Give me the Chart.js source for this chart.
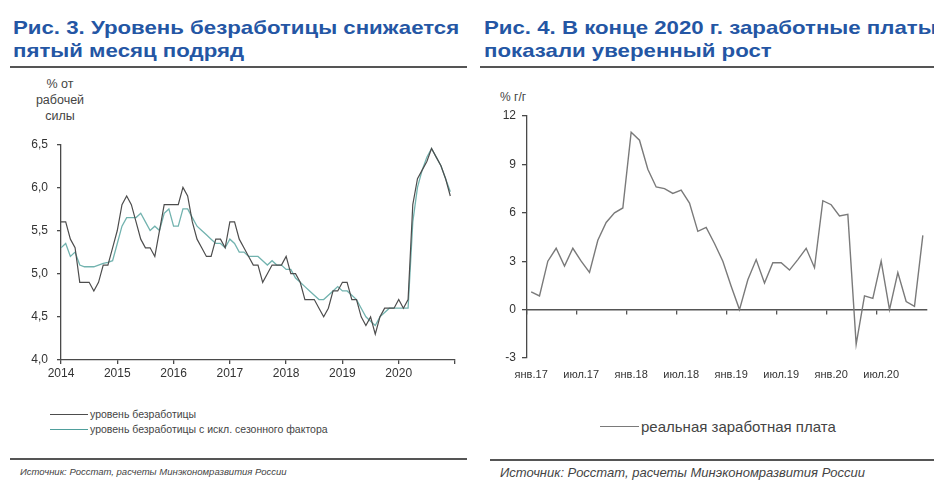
<!DOCTYPE html>
<html lang="ru">
<head>
<meta charset="utf-8">
<title>Безработица и заработные платы</title>
<script src="https://cdn.jsdelivr.net/npm/chart.js@4.4.1/dist/chart.umd.min.js"></script>
<style>
  html, body { margin: 0; padding: 0; background: #fff; }
  body {
    width: 934px; height: 481px; overflow: hidden; position: relative;
    font-family: "Liberation Sans", Arial, sans-serif; color: #333;
  }
  .abs { position: absolute; white-space: nowrap; }
  .title {
    font-weight: bold; font-size: 19px; line-height: 23px; color: #2456a4;
    transform: scaleX(1.17); transform-origin: left top;
  }
  .rule { position: absolute; height: 2px; background: #555; }
  .ytitle { font-size: 12.5px; line-height: 16px; text-align: center; color: #444; }
  .legend { font-size: 10.5px; color: #444; display: flex; align-items: center; }
  .legend .swatch { display: inline-block; width: 38px; height: 0; border-top: 1.5px solid #555; margin-right: 2px; }
  .source { font-size: 9.5px; font-style: italic; color: #444; }
  canvas { position: absolute; }
</style>
</head>
<body>

<!-- Left panel: unemployment rate -->
<div class="abs title" style="left:13px; top:16px;">Рис. 3. Уровень безработицы снижается<br>пятый месяц подряд</div>
<div class="rule" style="left:10px; width:457px; top:66px;"></div>
<div class="abs ytitle" style="left:29px; width:62px; top:76px;">% от<br>рабочей<br>силы</div>
<canvas id="unempChart" width="467" height="262" style="left:0; top:128px;"></canvas>
<div class="abs legend" style="left:50px; top:408px;"><span class="swatch" style="border-top-color:#4d4d4d"></span>уровень безработицы</div>
<div class="abs legend" style="left:50px; top:423px;"><span class="swatch" style="border-top-color:#4f9f9c"></span>уровень безработицы с искл. сезонного фактора</div>
<div class="rule" style="left:10px; width:457px; top:458px;"></div>
<div class="abs source" style="left:20px; top:466px;">Источник: Росстат, расчеты Минэкономразвития России</div>

<!-- Right panel: real wages -->
<div class="abs title" style="left:484px; top:16px;">Рис. 4. В конце 2020 г. заработные платы<br>показали уверенный рост</div>
<div class="rule" style="left:480px; width:454px; top:66px;"></div>
<div class="abs ytitle" style="left:500px; top:89px; font-size:12px; text-align:left;">% г/г</div>
<canvas id="wageChart" width="467" height="300" style="left:467px; top:100px;"></canvas>
<div class="abs legend" style="left:600px; top:418px; font-size:15px;"><span class="swatch" style="border-top-color:#7a7a7a; width:39px;"></span>реальная заработная плата</div>
<div class="rule" style="left:490px; width:444px; top:459px;"></div>
<div class="abs source" style="left:500px; top:465px; font-size:13px;">Источник: Росстат, расчеты Минэкономразвития России</div>

<script>
// ---- Unemployment, % of labour force, monthly Jan 2014 – Dec 2020 ----
const unempFirstYear = 2014;
const unempYearLabels = ['2014', '2015', '2016', '2017', '2018', '2019', '2020'];

const unempRate = [
  5.6, 5.6, 5.4, 5.3, 4.9, 4.9, 4.9, 4.8, 4.9, 5.1, 5.1, 5.3,
  5.5, 5.8, 5.9, 5.8, 5.6, 5.4, 5.3, 5.3, 5.2, 5.5, 5.8, 5.8,
  5.8, 5.8, 6.0, 5.9, 5.6, 5.4, 5.3, 5.2, 5.2, 5.4, 5.4, 5.3,
  5.6, 5.6, 5.4, 5.3, 5.2, 5.1, 5.1, 4.9, 5.0, 5.1, 5.1, 5.1,
  5.2, 5.0, 5.0, 4.9, 4.7, 4.7, 4.7, 4.6, 4.5, 4.6, 4.8, 4.8,
  4.9, 4.9, 4.7, 4.7, 4.5, 4.4, 4.5, 4.3, 4.5, 4.6, 4.6, 4.6,
  4.7, 4.6, 4.7, 5.8, 6.1, 6.2, 6.3, 6.45, 6.35, 6.25, 6.1, 5.9
];

const unempRateSA = [
  5.3, 5.35, 5.2, 5.25, 5.1, 5.08, 5.08, 5.08, 5.1, 5.12, 5.13, 5.15,
  5.35, 5.55, 5.65, 5.65, 5.65, 5.7, 5.6, 5.5, 5.55, 5.5, 5.7, 5.75,
  5.55, 5.55, 5.75, 5.75, 5.65, 5.55, 5.5, 5.45, 5.4, 5.35, 5.35, 5.3,
  5.4, 5.35, 5.25, 5.25, 5.2, 5.2, 5.2, 5.15, 5.1, 5.15, 5.1, 5.1,
  5.05, 5.05, 4.95, 4.9, 4.85, 4.8, 4.75, 4.7, 4.7, 4.75, 4.8, 4.85,
  4.8, 4.8, 4.75, 4.7, 4.6, 4.5, 4.45, 4.4, 4.5, 4.55, 4.6, 4.6,
  4.6, 4.6, 4.6, 5.6, 6.0, 6.2, 6.35, 6.45, 6.35, 6.25, 6.1, 5.95
];

// ---- Real wages, % y/y, monthly Jan 2017 – Dec 2020 ----
const wageMonthNames = ['янв', 'фев', 'мар', 'апр', 'май', 'июн', 'июл', 'авг', 'сен', 'окт', 'ноя', 'дек'];
const wageYears = ['17', '18', '19', '20'];
const wageLabels = [];
wageYears.forEach(y => wageMonthNames.forEach(m => wageLabels.push(m + '.' + y)));

const realWages = [
  1.1, 0.85, 3.0, 3.8, 2.7, 3.8, 3.0, 2.3, 4.3, 5.4, 6.0, 6.3,
  11.0, 10.5, 8.7, 7.6, 7.5, 7.2, 7.4, 6.6, 4.85, 5.1, 4.1, 3.0,
  1.45, 0.0, 1.85, 3.1, 1.65, 2.9, 2.9, 2.45, 3.1, 3.8, 2.6, 6.75,
  6.5, 5.8, 5.9, -2.15, 0.85, 0.7, 3.0, 0.0, 2.3, 0.5, 0.2, 4.6
];

const axisColor = '#4a4a4a';
const tickFont = { family: '"Liberation Sans", Arial, sans-serif', size: 12 };

// Left chart: month index on a linear axis, one labelled tick per January
new Chart(document.getElementById('unempChart'), {
  type: 'line',
  data: {
    datasets: [
      {
        label: 'уровень безработицы',
        data: unempRate.map((v, i) => ({ x: i, y: v })),
        borderColor: '#4d4d4d', borderWidth: 1.2, pointRadius: 0, tension: 0
      },
      {
        label: 'уровень безработицы с искл. сезонного фактора',
        data: unempRateSA.map((v, i) => ({ x: i, y: v })),
        borderColor: '#72b3af', borderWidth: 1.3, pointRadius: 0, tension: 0
      }
    ]
  },
  options: {
    responsive: false, animation: false, devicePixelRatio: 1,
    layout: { padding: { left: 0, right: 12, top: 10, bottom: 0 } },
    plugins: { legend: { display: false }, tooltip: { enabled: false } },
    scales: {
      x: {
        type: 'linear', min: 0, max: 84,
        afterFit: s => { s.height = 30; },
        border: { display: true, color: axisColor, width: 1.3 },
        grid: { drawOnChartArea: false, drawTicks: true, tickLength: 4, color: axisColor, lineWidth: 1.3 },
        ticks: {
          stepSize: 12, autoSkip: false, maxRotation: 0, padding: 2,
          color: '#333', font: tickFont,
          callback: v => {
            const k = v / 12;
            return Number.isInteger(k) && k < unempYearLabels.length ? unempYearLabels[k] : '';
          }
        }
      },
      y: {
        min: 4, max: 6.5,
        afterFit: s => { s.width = 61; },
        border: { display: true, color: axisColor, width: 1.3 },
        grid: { drawOnChartArea: false, drawTicks: true, tickLength: 4, color: axisColor, lineWidth: 1.3 },
        ticks: {
          stepSize: 0.5, padding: 9, color: '#333', font: tickFont,
          callback: v => v.toFixed(1).replace('.', ',')
        }
      }
    }
  }
});

// Right chart: categories with labels every six months, zero line as its own axis
new Chart(document.getElementById('wageChart'), {
  type: 'line',
  data: {
    labels: wageLabels,
    datasets: [{
      label: 'реальная заработная плата',
      data: realWages,
      xAxisID: 'x',
      borderColor: '#7a7a7a', borderWidth: 1.4, pointRadius: 0, tension: 0
    }]
  },
  options: {
    responsive: false, animation: false, devicePixelRatio: 1,
    layout: { padding: { left: 0, right: 7, top: 16, bottom: 0 } },
    plugins: { legend: { display: false }, tooltip: { enabled: false } },
    scales: {
      x: {
        type: 'category', offset: true, position: 'bottom',
        afterFit: s => { s.height = 42; },
        border: { display: false },
        grid: { display: false, drawTicks: false },
        ticks: {
          autoSkip: false, maxRotation: 0, padding: 10, color: '#333',
          font: { family: '"Liberation Sans", Arial, sans-serif', size: 11 },
          callback: function (v, i) { return i % 6 === 0 ? this.getLabelForValue(v) : ''; }
        }
      },
      xZero: {
        type: 'category', offset: true, position: { y: 0 },
        border: { display: true, color: '#555', width: 1.5 },
        grid: {
          offset: true, drawOnChartArea: false, drawTicks: true, tickLength: 4, lineWidth: 1.3,
          color: ctx => (ctx.index % 6 === 0 ? '#555' : 'rgba(0,0,0,0)')
        },
        ticks: { display: false, autoSkip: false }
      },
      y: {
        min: -3, max: 12,
        afterFit: s => { s.width = 60; },
        border: { display: true, color: axisColor, width: 1.3 },
        grid: { drawOnChartArea: false, drawTicks: true, tickLength: 5, color: axisColor, lineWidth: 1.3 },
        ticks: { stepSize: 3, padding: 6, color: '#333', font: tickFont }
      }
    }
  }
});
</script>
</body>
</html>
